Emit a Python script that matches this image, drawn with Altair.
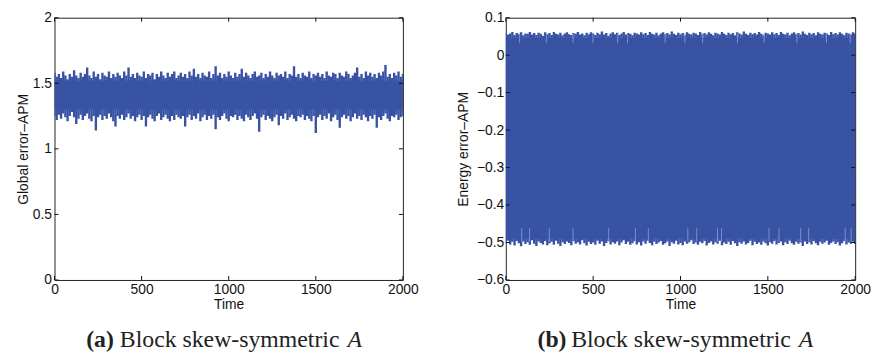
import altair as alt
import pandas as pd

# ---------------- data ----------------
# sample times (every 12.5 time units, 0..2000)
times = [12.5 * i for i in range(161)]

# (a) Global error-APM: upper / lower envelope of the noisy signal
left_hi = [
    1.58, 1.55, 1.57, 1.54, 1.59, 1.56, 1.53, 1.57, 1.55, 1.60,
    1.56, 1.54, 1.58, 1.55, 1.57, 1.62, 1.56, 1.54, 1.59, 1.55,
    1.57, 1.53, 1.58, 1.56, 1.55, 1.59, 1.54, 1.57, 1.55, 1.58,
    1.56, 1.54, 1.59, 1.56, 1.62, 1.55, 1.57, 1.54, 1.58, 1.56,
    1.55, 1.59, 1.54, 1.57, 1.56, 1.58, 1.53, 1.57, 1.55, 1.59,
    1.56, 1.54, 1.58, 1.55, 1.57, 1.59, 1.54, 1.56, 1.58, 1.55,
    1.57, 1.54, 1.59, 1.56, 1.61, 1.55, 1.57, 1.54, 1.58, 1.56,
    1.55, 1.59, 1.54, 1.57, 1.63, 1.56, 1.58, 1.54, 1.57, 1.55,
    1.59, 1.56, 1.54, 1.58, 1.55, 1.57, 1.61, 1.55, 1.58, 1.56,
    1.54, 1.57, 1.59, 1.55, 1.56, 1.58, 1.54, 1.57, 1.55, 1.59,
    1.56, 1.54, 1.58, 1.56, 1.57, 1.55, 1.59, 1.54, 1.57, 1.56,
    1.63, 1.55, 1.57, 1.54, 1.58, 1.56, 1.55, 1.59, 1.54, 1.57,
    1.56, 1.58, 1.55, 1.57, 1.54, 1.59, 1.56, 1.55, 1.58, 1.57,
    1.54, 1.58, 1.56, 1.55, 1.59, 1.57, 1.54, 1.56, 1.58, 1.62,
    1.55, 1.57, 1.54, 1.59, 1.56, 1.58, 1.55, 1.57, 1.54, 1.58,
    1.56, 1.59, 1.64, 1.55, 1.57, 1.54, 1.58, 1.56, 1.59, 1.55,
    1.57,
]
left_lo = [
    1.25, 1.22, 1.26, 1.23, 1.27, 1.24, 1.21, 1.25, 1.28, 1.24,
    1.19, 1.23, 1.26, 1.22, 1.25, 1.27, 1.23, 1.21, 1.25, 1.14,
    1.24, 1.26, 1.22, 1.25, 1.23, 1.27, 1.24, 1.21, 1.17, 1.25,
    1.23, 1.26, 1.22, 1.24, 1.27, 1.23, 1.25, 1.21, 1.24, 1.26,
    1.22, 1.25, 1.17, 1.24, 1.26, 1.23, 1.21, 1.25, 1.27, 1.22,
    1.24, 1.26, 1.23, 1.21, 1.25, 1.22, 1.26, 1.24, 1.23, 1.25,
    1.17, 1.24, 1.26, 1.22, 1.25, 1.23, 1.27, 1.21, 1.24, 1.26,
    1.22, 1.25, 1.23, 1.26, 1.15, 1.24, 1.22, 1.25, 1.27, 1.23,
    1.21, 1.25, 1.24, 1.26, 1.22, 1.25, 1.23, 1.21, 1.26, 1.24,
    1.22, 1.25, 1.27, 1.23, 1.13, 1.24, 1.26, 1.22, 1.25, 1.23,
    1.21, 1.24, 1.26, 1.18, 1.25, 1.23, 1.27, 1.22, 1.24, 1.26,
    1.23, 1.21, 1.25, 1.24, 1.26, 1.22, 1.25, 1.23, 1.21, 1.25,
    1.12, 1.24, 1.26, 1.22, 1.25, 1.23, 1.27, 1.21, 1.24, 1.26,
    1.22, 1.16, 1.24, 1.26, 1.23, 1.25, 1.21, 1.24, 1.27, 1.23,
    1.25, 1.22, 1.26, 1.24, 1.21, 1.25, 1.23, 1.26, 1.16, 1.24,
    1.22, 1.25, 1.27, 1.23, 1.21, 1.25, 1.24, 1.26, 1.22, 1.24,
    1.25,
]
left_core_t = [0, 2000]
left_core_lo = [1.30, 1.30]
left_core_hi = [1.52, 1.52]

# (b) Energy error-APM: upper / lower envelope of the oscillation
right_hi = [
    0.060, 0.055, 0.058, 0.062, 0.054, 0.059, 0.056, 0.061, 0.053, 0.058,
    0.057, 0.062, 0.055, 0.059, 0.054, 0.060, 0.057, 0.052, 0.061, 0.056,
    0.059, 0.054, 0.062, 0.057, 0.055, 0.060, 0.053, 0.058, 0.061, 0.056,
    0.054, 0.059, 0.057, 0.062, 0.055, 0.058, 0.053, 0.060, 0.056, 0.061,
    0.058, 0.054, 0.060, 0.056, 0.063, 0.055, 0.059, 0.052, 0.058, 0.061,
    0.056, 0.060, 0.054, 0.058, 0.062, 0.055, 0.059, 0.057, 0.053, 0.060,
    0.058, 0.055, 0.061, 0.056, 0.059, 0.054, 0.062, 0.057, 0.055, 0.060,
    0.053, 0.058, 0.061, 0.056, 0.059, 0.055, 0.063, 0.057, 0.054, 0.060,
    0.056, 0.059, 0.053, 0.061, 0.057, 0.055, 0.060, 0.058, 0.054, 0.062,
    0.056, 0.059, 0.055, 0.061, 0.057, 0.053, 0.060, 0.058, 0.055, 0.062,
    0.057, 0.054, 0.060, 0.056, 0.059, 0.053, 0.061, 0.058, 0.055, 0.063,
    0.057, 0.054, 0.060, 0.056, 0.059, 0.055, 0.062, 0.057, 0.053, 0.060,
    0.058, 0.055, 0.061, 0.056, 0.059, 0.054, 0.062, 0.057, 0.055, 0.060,
    0.053, 0.058, 0.061, 0.056, 0.059, 0.055, 0.063, 0.057, 0.054, 0.060,
    0.056, 0.059, 0.053, 0.061, 0.057, 0.055, 0.060, 0.058, 0.054, 0.062,
    0.056, 0.059, 0.055, 0.061, 0.057, 0.053, 0.060, 0.058, 0.055, 0.061,
    0.058,
]
right_lo = [
    -0.500, -0.495, -0.505, -0.498, -0.508, -0.496, -0.502, -0.510, -0.497, -0.504,
    -0.499, -0.506, -0.494, -0.503, -0.509, -0.497, -0.501, -0.505, -0.496, -0.507,
    -0.502, -0.498, -0.506, -0.495, -0.503, -0.509, -0.499, -0.504, -0.497, -0.501,
    -0.507, -0.496, -0.503, -0.499, -0.505, -0.494, -0.502, -0.508, -0.498, -0.504,
    -0.500, -0.506, -0.495, -0.503, -0.497, -0.509, -0.501, -0.496, -0.505, -0.499,
    -0.503, -0.497, -0.507, -0.500, -0.494, -0.504, -0.498, -0.506, -0.502, -0.496,
    -0.505, -0.499, -0.508, -0.497, -0.503, -0.495, -0.501, -0.507, -0.498, -0.504,
    -0.500, -0.496, -0.506, -0.502, -0.497, -0.509, -0.499, -0.503, -0.495, -0.505,
    -0.501, -0.507, -0.497, -0.503, -0.499, -0.494, -0.504, -0.500, -0.506, -0.498,
    -0.502, -0.496, -0.508, -0.501, -0.497, -0.505, -0.499, -0.503, -0.495, -0.507,
    -0.500, -0.504, -0.498, -0.506, -0.496, -0.502, -0.509, -0.499, -0.503, -0.497,
    -0.505, -0.501, -0.495, -0.507, -0.498, -0.504, -0.500, -0.506, -0.497, -0.502,
    -0.508, -0.499, -0.503, -0.496, -0.505, -0.501, -0.497, -0.507, -0.499, -0.504,
    -0.495, -0.502, -0.506, -0.498, -0.503, -0.500, -0.509, -0.497, -0.504, -0.499,
    -0.505, -0.496, -0.502, -0.507, -0.498, -0.503, -0.500, -0.495, -0.506, -0.501,
    -0.497, -0.504, -0.499, -0.508, -0.502, -0.496, -0.505, -0.500, -0.503, -0.498,
    -0.504,
]
right_core_t = [0, 2000]
right_core_lo = [-0.490, -0.490]
right_core_hi = [0.046, 0.046]

# thin lighter streaks inside the band (gaps between oscillations)
right_light_top_t = [79, 232, 385, 499, 640, 697, 912, 1025, 1127, 1326, 1479, 1666, 1836, 1972]
right_light_bot_t = [91, 136, 249, 385, 589, 742, 816, 1042, 1093, 1212, 1235, 1507, 1564, 1688, 1734, 1943, 1977]

x_ticks = [0, 500, 1000, 1500, 2000]
left_y_ticks = [0, 0.5, 1, 1.5, 2]
right_y_ticks = [-0.6, -0.5, -0.4, -0.3, -0.2, -0.1, 0, 0.1]

x_title = "Time"
left_y_title = "Global error\u2013APM"
right_y_title = "Energy error\u2013APM"
caption_a = ["(a)", "Block skew-symmetric", "A"]
caption_b = ["(b)", "Block skew-symmetric", "A"]

# ---------------- styling ----------------
W, H = 352, 265
BLUE = "#3953a4"
LIGHT = "#8596cc"
AXIS_COL = "#111111"
TICK_LEN = 4


def panel(hi, lo, core_t, core_lo, core_hi, y_dom, y_ticks, y_title,
          caption, extent, title_pad, label_pad, light_top=None, light_bot=None,
          light_top_rng=None, light_bot_rng=None, width=W):
    xs = alt.Scale(domain=[0, 2000], nice=False, zero=False)
    ys = alt.Scale(domain=y_dom, nice=False, zero=False)
    xa = alt.Axis(title=x_title, values=x_ticks, format="d",
                  ticks=False, domain=False, grid=False,
                  labelFlush=False, labelOverlap=False,
                  labelPadding=3, titlePadding=1)
    ya = alt.Axis(title=y_title, values=y_ticks, format="~g",
                  ticks=False, domain=False, grid=False,
                  labelOverlap=False, labelPadding=label_pad,
                  minExtent=extent, maxExtent=extent,
                  titlePadding=title_pad)

    def X(f):
        return alt.X(f, scale=xs, axis=xa, title=x_title)

    def Y(f):
        return alt.Y(f, scale=ys, axis=ya, title=y_title)

    sig = pd.DataFrame({"t": times, "hi": hi, "lo": lo})
    core = pd.DataFrame({"t": core_t, "lo": core_lo, "hi": core_hi})

    core_layer = alt.Chart(core).mark_area(color=BLUE, clip=True).encode(
        x=X("t:Q"), y=Y("lo:Q"), y2="hi:Q")
    rule_layer = alt.Chart(sig).mark_rule(color=BLUE, strokeWidth=2.4, clip=True).encode(
        x=X("t:Q"), y=Y("lo:Q"), y2="hi:Q")
    layers = [core_layer, rule_layer]

    if light_top is not None:
        lt = pd.DataFrame({"t": light_top, "lo": [light_top_rng[0]] * len(light_top),
                           "hi": [light_top_rng[1]] * len(light_top)})
        lb = pd.DataFrame({"t": light_bot, "lo": [light_bot_rng[0]] * len(light_bot),
                           "hi": [light_bot_rng[1]] * len(light_bot)})
        for d in (lt, lb):
            layers.append(alt.Chart(d).mark_rule(color=LIGHT, strokeWidth=0.9, clip=True).encode(
                x=X("t:Q"), y=Y("lo:Q"), y2="hi:Q"))

    # inward tick marks (MATLAB style box)
    xt = pd.DataFrame({"t": x_ticks})
    yt = pd.DataFrame({"lo": y_ticks})
    layers += [
        alt.Chart(xt).mark_rule(color=AXIS_COL, strokeWidth=1).encode(
            x=X("t:Q"), y=alt.value(H), y2=alt.value(H - TICK_LEN)),
        alt.Chart(xt).mark_rule(color=AXIS_COL, strokeWidth=1).encode(
            x=X("t:Q"), y=alt.value(0), y2=alt.value(TICK_LEN)),
        alt.Chart(yt).mark_rule(color=AXIS_COL, strokeWidth=1).encode(
            y=Y("lo:Q"), x=alt.value(0), x2=alt.value(TICK_LEN)),
        alt.Chart(yt).mark_rule(color=AXIS_COL, strokeWidth=1).encode(
            y=Y("lo:Q"), x=alt.value(width), x2=alt.value(width - TICK_LEN)),
    ]

    # caption under the panel: bold label, roman text, italic symbol
    cap = pd.DataFrame({"a": [caption[0]], "b": [caption[1]], "c": [caption[2]]})
    base = alt.Chart(cap)
    cap_y = H + 68
    layers += [
        base.mark_text(font="Liberation Serif", fontSize=24, fontWeight="bold",
                       align="left", baseline="alphabetic", color="#222").encode(
            x=alt.value(32), y=alt.value(cap_y), text="a:N"),
        base.mark_text(font="Liberation Serif", fontSize=24,
                       align="left", baseline="alphabetic", color="#222").encode(
            x=alt.value(66), y=alt.value(cap_y), text="b:N"),
        base.mark_text(font="Liberation Serif", fontSize=24, fontStyle="italic",
                       align="left", baseline="alphabetic", color="#222").encode(
            x=alt.value(296), y=alt.value(cap_y), text="c:N"),
    ]
    return alt.layer(*layers).properties(width=width, height=H)


left = panel(left_hi, left_lo, left_core_t, left_core_lo, left_core_hi,
             [0, 2], left_y_ticks, left_y_title, caption_a,
             extent=23, title_pad=1, label_pad=3)
right = panel(right_hi, right_lo, right_core_t, right_core_lo, right_core_hi,
              [-0.6, 0.1], right_y_ticks, right_y_title, caption_b,
              extent=32, title_pad=4, label_pad=2,
              light_top=right_light_top_t, light_bot=right_light_bot_t,
              light_top_rng=(0.058, 0.032), light_bot_rng=(-0.498, -0.462),
              width=353)

chart = alt.hconcat(left, right, spacing=36).properties(
    padding={"left": 8, "top": 0, "right": 0, "bottom": 0},
    autosize=alt.AutoSizeParams(type="pad"),
).configure_view(
    stroke="#222222", strokeWidth=1
).configure_axis(
    labelFont="Liberation Sans", titleFont="Liberation Sans",
    labelFontSize=14, titleFontSize=14, labelColor=AXIS_COL, titleColor=AXIS_COL,
    titleFontWeight="normal",
)

chart.save("out.html", embed_options={"renderer": "svg", "actions": False})
